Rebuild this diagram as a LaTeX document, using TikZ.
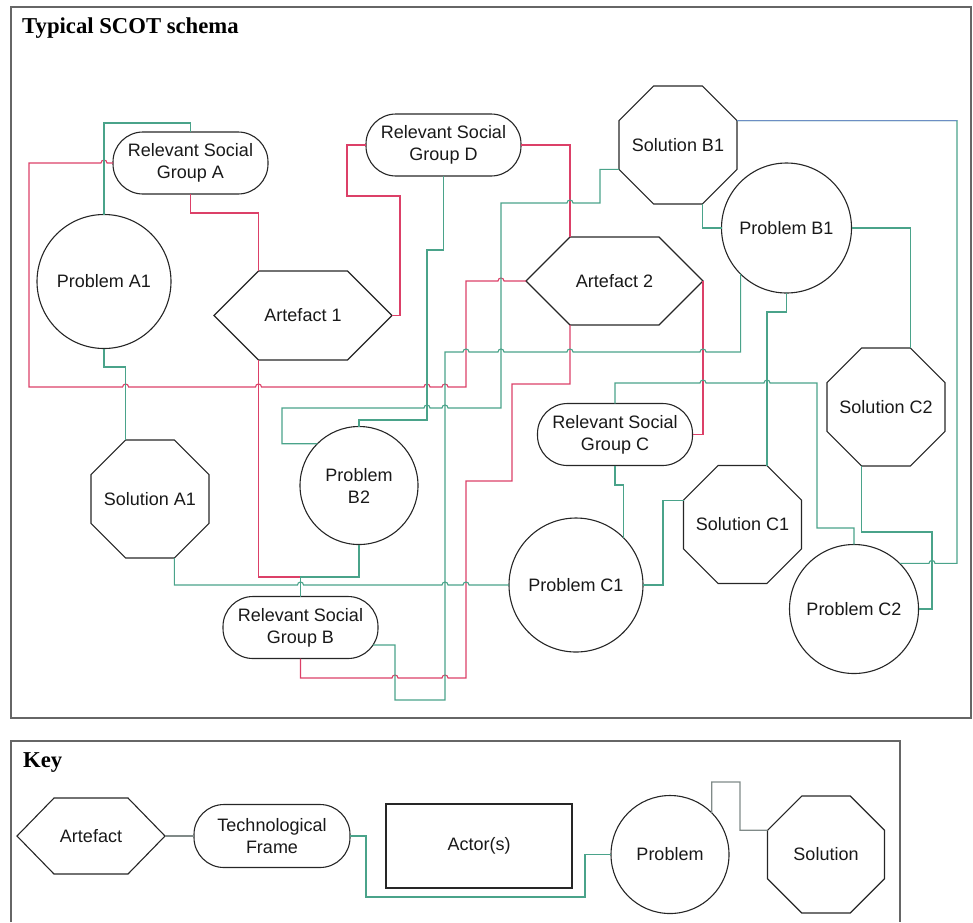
\documentclass[tikz,border=0pt]{standalone}
\usepackage{fontspec}
\newfontfamily\labfont{Liberation Sans}
\newfontfamily\headfont{Liberation Serif}
\usetikzlibrary{calc}
\definecolor{redc}{HTML}{DC4068}
\definecolor{tealc}{HTML}{4AA38A}
\definecolor{greyc}{HTML}{808A88}
\definecolor{bluec}{HTML}{6C8EC4}
\newcommand\octnode[5]{%
  \pgfmathsetmacro\octcut{#4*0.29289}%
  \node[boxtxt, minimum width=#4pt, minimum height=#4pt] (#1) at (#2,#3) {#5};
  \coordinate (#1-tl) at ([xshift=\octcut pt]#1.north west);
  \coordinate (#1-tr) at ([xshift=-\octcut pt]#1.north east);
  \coordinate (#1-rt) at ([yshift=-\octcut pt]#1.north east);
  \coordinate (#1-rb) at ([yshift=\octcut pt]#1.south east);
  \coordinate (#1-br) at ([xshift=-\octcut pt]#1.south east);
  \coordinate (#1-bl) at ([xshift=\octcut pt]#1.south west);
  \coordinate (#1-lb) at ([yshift=\octcut pt]#1.south west);
  \coordinate (#1-lt) at ([yshift=-\octcut pt]#1.north west);
  \draw[shp] (#1-tl) -- (#1-tr) -- (#1-rt) -- (#1-rb) -- (#1-br) -- (#1-bl) -- (#1-lb) -- (#1-lt) -- cycle;%
}
\newcommand\hexnode[7]{%
  \node[boxtxt, minimum width=#4pt, minimum height=#5pt] (#1) at (#2,#3) {#7};
  \coordinate (#1-tl) at ([xshift=#6pt]#1.north west);
  \coordinate (#1-tr) at ([xshift=-#6pt]#1.north east);
  \coordinate (#1-br) at ([xshift=-#6pt]#1.south east);
  \coordinate (#1-bl) at ([xshift=#6pt]#1.south west);
  \draw[shp] (#1-tl) -- (#1-tr) -- (#1.east) -- (#1-br) -- (#1-bl) -- (#1.west) -- cycle;%
}
\begin{document}
\begin{tikzpicture}[x=1pt,y=-1pt,
  shp/.style={draw=black!85, line width=1.1pt},
  boxtxt/.style={inner sep=0pt, outer sep=0pt, align=center, text=black!90,
    font=\labfont\fontsize{18}{22}\selectfont},
  stad/.style={boxtxt, shp, rectangle, rounded corners=30pt, minimum width=155pt, minimum height=62pt},
  prob/.style={boxtxt, shp, circle, minimum size=#1pt},
  redln/.style={draw=redc, line width=1.1pt},
  tealln/.style={draw=tealc, line width=1.1pt},
  greyln/.style={draw=greyc, line width=1.1pt},
  blueln/.style={draw=bluec, line width=1.1pt},
  panel/.style={draw=black!60, line width=1.8pt},
  headtxt/.style={anchor=base west, inner sep=0pt, font=\headfont\bfseries\fontsize{22.7}{26}\selectfont},
  hopr/.style args={#1/#2}{insert path={-- ({#1-3},#2) arc[start angle=180,end angle=0,radius=3pt]}},
  hopl/.style args={#1/#2}{insert path={-- ({#1+3},#2) arc[start angle=0,end angle=180,radius=3pt]}},
]
\useasboundingbox (0,0) rectangle (973,922);

% ---------- top panel ----------
\draw[panel] (11,7) rectangle (971,718);
\node[headtxt] (title) at (22,33.5) {Typical SCOT schema};

\node[stad] (rsga) at (190.5,163) {Relevant Social\\Group A};
\node[stad] (rsgd) at (443.5,145) {Relevant Social\\Group D};
\node[stad] (rsgb) at (300.5,627.5) {Relevant Social\\Group B};
\node[stad] (rsgc) at (615,434.5) {Relevant Social\\Group C};
\node[prob=134] (pa1) at (104,281.5) {Problem A1};
\node[prob=130] (pb1) at (786.5,228) {Problem B1};
\node[prob=118] (pb2) at (359,485.5) {Problem\\B2};
\node[prob=134] (pc1) at (576,585) {Problem C1};
\node[prob=129] (pc2) at (854,609) {Problem C2};
\hexnode{art1}{303}{315.5}{178}{89}{44.5}{Artefact 1}
\hexnode{art2}{614.5}{281}{177}{88}{44}{Artefact 2}
\octnode{sola1}{150}{499}{118}{Solution A1}
\octnode{solb1}{678}{145}{118}{Solution B1}
\octnode{solc1}{742.5}{524.5}{118}{Solution C1}
\octnode{solc2}{886}{407}{118}{Solution C2}

% red connectors
\draw[redln] (rsga.south) -- (190.5,213) -| (art1-tl);
\draw[redln] (art1.east) -- (400,315.5) -- (400,196) -- (347,196) |- (rsgd.west);
\draw[redln] (rsga.west) [hopl=104/163] -- (29,163) -- (29,387)
  [hopr=125.6/387] [hopr=258.5/387] [hopr=427/387] [hopr=445/387] -- (466,387)
  -- (466,281) [hopr=501/281] -- (art2.west);
\draw[redln] (rsgd.east) -| (art2-tl);
\draw[redln] (art1-bl) -- (258.5,577) -- (300.5,577);
\draw[redln] (rsgb.south) -- (300.5,678) [hopr=395/678] [hopr=445/678] -- (466,678)
  -- (466,481) -- (512,481) -- (512,384) -| (art2-bl);
\draw[redln] (art2.east) |- (rsgc.east);

% teal connectors
\draw[tealln] (pa1.north) -- (104,123) -| (rsga.north);
\draw[tealln] (pa1.south) -- (104,367) -| (sola1-tl);
\draw[tealln] (sola1-br) -- ++(0,27) [hopr=300.5/585] [hopr=445/585] [hopr=466/585] -- (pc1.west);
\draw[tealln] (pb2.south) -- (359,577) -| (rsgb.north);
\draw[tealln] (rsgd.south) -- (443.5,250) -- (427,250) -- (427,420) -| (pb2.north);
\draw[tealln] (pb2.north west) -- ++(-35.3,0) -- (282,408) [hopr=427/408] [hopr=445/408]
  -- (501,408) -- (501,203) [hopr=570/203] -- (600,203) |- (solb1-lb);
\draw[tealln] ([xshift=-5pt,yshift=-17.5pt]rsgb.east) -- (395,645) -- (395,700) -- (445,700)
  -- (445,352) [hopr=466/352] [hopr=501/352] [hopr=570/352] [hopr=703/352] -| (pb1.south west);
\draw[tealln] (pb1.south) -- ++(0,19) -| (solc1-tr);
\draw[tealln] (solb1-br) |- (pb1.west);
\draw[tealln] (solb1-rt) -- (957,120.56) -- (957,563.4) [hopl=932/563.4] -- (pc2.north east);
\draw[blueln] (solb1-rt) -- (957,120.56);
\draw[tealln] (pb1.east) -| (solc2-tr);
\draw[tealln] (solc2-bl) -- ++(0,66) -- (932,532) |- (pc2.east);
\draw[tealln] (rsgc.north) -- (615,383) [hopr=703/383] [hopr=767/383] -- (817,383)
  -- (817,528) -| (pc2.north);
\draw[tealln] (rsgc.south) -- (615,485) -| (pc1.north east);
\draw[tealln] (pc1.east) -- (663,585) |- (solc1-lt);

% ---------- key panel ----------
\draw[panel] (11,922) -- (11,741) -- (900,741) -- (900,922);
\node[headtxt] (keytitle) at (23,767) {Key};
\hexnode{kart}{91}{836}{148}{76}{37}{Artefact}
\node[stad, minimum width=156pt, minimum height=63pt] (ktf) at (272,836) {Technological\\Frame};
\node[boxtxt, shp, line width=1.6pt, minimum width=186pt, minimum height=84pt] (kact) at (479,846) {Actor(s)};
\node[prob=118] (kprob) at (670,854.5) {Problem};
\octnode{ksol}{826}{854.5}{117}{Solution}

\draw[greyln] (kart.east) -- (ktf.west);
\draw[tealln] (ktf.east) -- (366,836) -- (366,897) -- (585,897) |- (kprob.west);
\draw[greyln] (kprob.north east) -- ++(0,-30.8) -- (740,782) |- (ksol-lt);
\end{tikzpicture}
\end{document}
